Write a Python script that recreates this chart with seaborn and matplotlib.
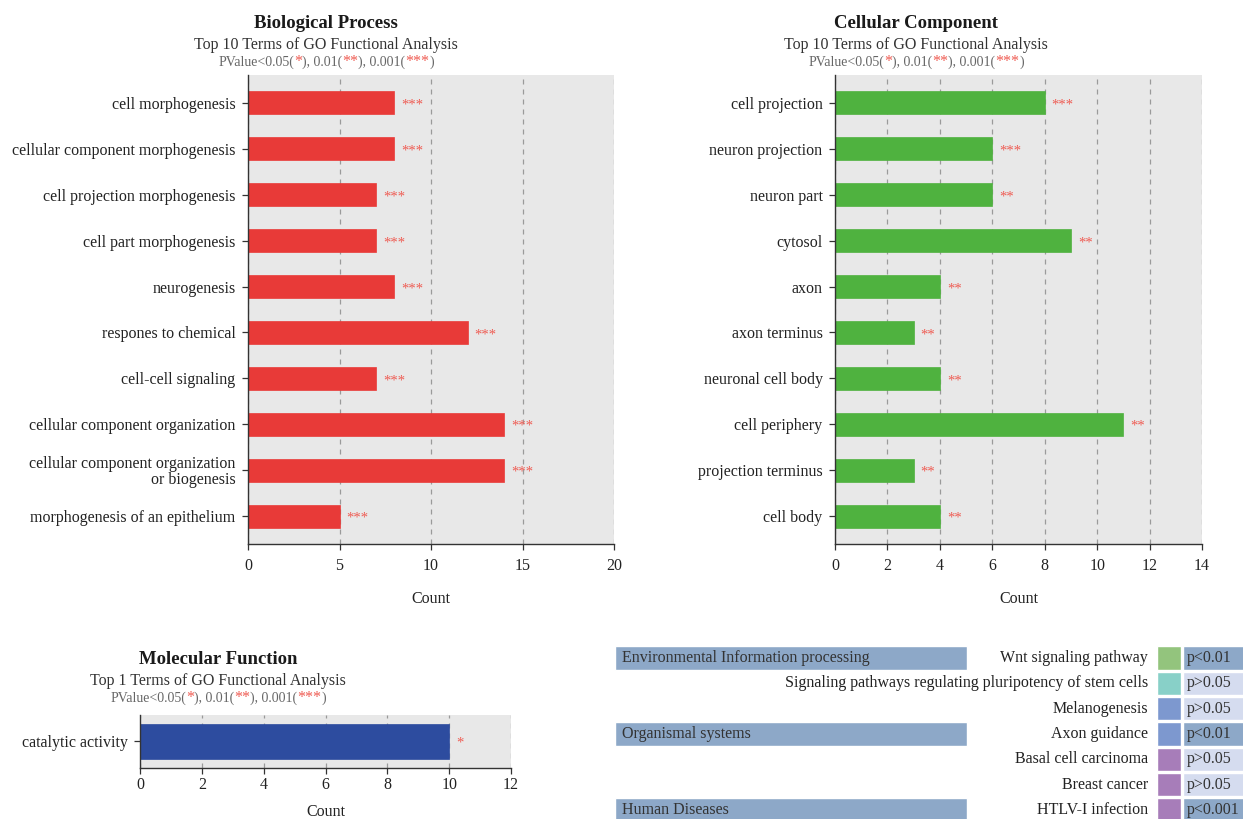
import numpy as np
import pandas as pd
import matplotlib
matplotlib.use("Agg")
import matplotlib.pyplot as plt
import seaborn as sns

# ---------------- data ----------------
bp_terms = ["cell morphogenesis", "cellular component morphogenesis",
            "cell projection morphogenesis", "cell part morphogenesis",
            "neurogenesis", "respones to chemical", "cell-cell signaling",
            "cellular component organization",
            "cellular component organization\nor biogenesis",
            "morphogenesis of an epithelium"]
bp_counts = [8, 8, 7, 7, 8, 12, 7, 14, 14, 5]
bp_sig = ["***"] * 10

cc_terms = ["cell projection", "neuron projection", "neuron part", "cytosol",
            "axon", "axon terminus", "neuronal cell body", "cell periphery",
            "projection terminus", "cell body"]
cc_counts = [8, 6, 6, 9, 4, 3, 4, 11, 3, 4]
cc_sig = ["***", "***", "**", "**", "**", "**", "**", "**", "**", "**"]

mf_terms = ["catalytic activity"]
mf_counts = [10]
mf_sig = ["*"]

bp_ticks = [0, 5, 10, 15, 20]
cc_ticks = [0, 2, 4, 6, 8, 10, 12, 14]
mf_ticks = [0, 2, 4, 6, 8, 10, 12]

kegg_categories = ["Environmental Information processing", "Organismal systems", "Human Diseases"]
kegg_category_rows = [0, 3, 6]
kegg_terms = ["Wnt signaling pathway",
              "Signaling pathways regulating pluripotency of stem cells",
              "Melanogenesis", "Axon guidance", "Basal cell carcinoma",
              "Breast cancer", "HTLV-I infection"]
kegg_pvals = ["p<0.01", "p>0.05", "p>0.05", "p<0.01", "p>0.05", "p>0.05", "p<0.001"]
kegg_colors = ["#93C47D", "#88D0C8", "#7D98CF", "#7D98CF", "#A77DB9", "#A77DB9", "#A77DB9"]

# ---------------- style ----------------
FONT = "Liberation Serif"
W, H, DPI = 1243, 819, 100
sns.set_style("white")
plt.rcParams["font.family"] = [FONT, "DejaVu Serif"]

BG = "#E8E8E8"
TXT = "#222222"
STAR = "#EF5B52"

fig = plt.figure(figsize=(W / DPI, H / DPI), dpi=DPI)


def px_axes(l, t, r, b):
    return fig.add_axes([l / W, 1 - b / H, (r - l) / W, (b - t) / H])


def fx(x):
    return x / W


def fy(y):
    return 1 - y / H


def bar_panel(ax, terms, counts, sigs, color, ticks, bar_w, pad, xpad=6, lpad=12):
    df = pd.DataFrame({"term": terms, "count": counts})
    sns.barplot(data=df, x="count", y="term", color=color, saturation=1,
                width=bar_w, ax=ax, edgecolor=color, linewidth=0.5)
    n = len(terms)
    ax.set_facecolor(BG)
    ax.set_xlim(ticks[0], ticks[-1])
    ax.set_ylim(n - 1 + pad, -pad)
    ax.set_xticks(ticks)
    ax.set_axisbelow(True)
    ax.xaxis.grid(True, linestyle=(0, (4, 4)), color="#9A9A9A", lw=0.9)
    ax.yaxis.grid(False)
    for s in ["top", "right"]:
        ax.spines[s].set_visible(False)
    for s in ["left", "bottom"]:
        ax.spines[s].set_visible(True)
        ax.spines[s].set_color("#333333")
        ax.spines[s].set_linewidth(1.0)
    ax.tick_params(axis="both", which="major", length=4, width=0.9,
                   color="#333333", labelsize=11.5, labelcolor=TXT,
                   direction="out", left=True, bottom=True)
    ax.tick_params(axis="x", pad=xpad)
    ax.tick_params(axis="y", pad=5)
    for lab in ax.get_yticklabels():
        lab.set_linespacing(0.95)
    ax.set_ylabel("")
    ax.set_xlabel("Count", fontsize=11.5, color=TXT, labelpad=lpad)
    for i, (c, s) in enumerate(zip(counts, sigs)):
        ax.annotate(s, (c, i), xytext=(5, -1.5), textcoords="offset points",
                    ha="left", va="center", color=STAR, fontsize=10.5)


def rich_center(xc, y, parts, size):
    renderer = fig.canvas.get_renderer()
    sizes = [size * (1.15 if c == STAR else 1.0) for s, c in parts]
    widths = []
    for (s, c), sz in zip(parts, sizes):
        t = fig.text(0, 0, s, fontsize=sz)
        widths.append(t.get_window_extent(renderer).width)
        t.remove()
    total = sum(widths)
    x = xc - total / 2
    for (s, c), w, sz in zip(parts, widths, sizes):
        fig.text(fx(x), fy(y), s, fontsize=sz, color=c, ha="left", va="baseline")
        x += w


def titles(xc, y0, title, sub):
    fig.text(fx(xc), fy(y0), title, fontsize=13.5, fontweight="bold",
             color="#1A1A1A", ha="center", va="center")
    fig.text(fx(xc), fy(y0 + 22), sub, fontsize=11.5, color="#333333",
             ha="center", va="center")
    G = "#666666"
    rich_center(xc, y0 + 43, [("PValue<0.05(", G), ("*", STAR), ("), 0.01(", G),
                               ("**", STAR), ("), 0.001(", G), ("***", STAR), (")", G)],
                10)


# Biological process
ax_bp = px_axes(248, 75, 614, 544)
bar_panel(ax_bp, bp_terms, bp_counts, bp_sig, "#E83A38", bp_ticks, 0.5, 0.6)
titles(326, 23, "Biological Process", "Top 10 Terms of GO Functional Analysis")

# Cellular component
ax_cc = px_axes(835, 75, 1202, 544)
bar_panel(ax_cc, cc_terms, cc_counts, cc_sig, "#4FB23F", cc_ticks, 0.5, 0.6)
titles(916, 23, "Cellular Component", "Top 10 Terms of GO Functional Analysis")

# Molecular function
ax_mf = px_axes(140, 715, 511, 767.5)
bar_panel(ax_mf, mf_terms, mf_counts, mf_sig, "#2D4C9F", mf_ticks, 0.8, 0.6,
          xpad=2.5, lpad=8)
titles(218, 659, "Molecular Function", "Top 1 Terms of GO Functional Analysis")

# KEGG-like table
ax_t = px_axes(612, 645, 1243, 819)
ax_t.set_xlim(612, 1243)
ax_t.set_ylim(6.36, -0.51)
ax_t.axis("off")
rows = np.arange(len(kegg_terms))
ax_t.barh(kegg_category_rows, 352, left=615, height=0.92, color="#8DA8C8")
for r, cat in zip(kegg_category_rows, kegg_categories):
    ax_t.text(622, r, cat, fontsize=11.5, color="#333333", ha="left", va="center")
ax_t.barh(rows, 24, left=1157, height=0.92, color=kegg_colors)
pcell = ["#8DA8C8" if p.startswith("p<") else "#D5DCEF" for p in kegg_pvals]
ax_t.barh(rows, 70, left=1183, height=0.92, color=pcell)
for r, term, p in zip(rows, kegg_terms, kegg_pvals):
    ax_t.text(1148, r, term, fontsize=11.5, color=TXT, ha="right", va="center")
    ax_t.text(1187, r, p, fontsize=11.5, color="#333333", ha="left", va="center")

fig.savefig("out.png", dpi=DPI)
